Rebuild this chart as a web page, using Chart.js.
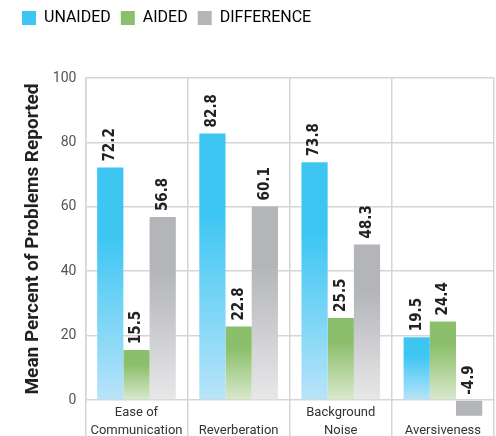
<!DOCTYPE html>
<html>
<head>
<meta charset="utf-8">
<script src="https://cdn.jsdelivr.net/npm/chart.js@4/dist/chart.umd.min.js"></script>
<style>
  html, body { margin: 0; padding: 0; background: #fff; }
  #wrap { width: 496px; height: 436px; }
</style>
</head>
<body>
<div id="wrap"><canvas id="grafico"></canvas></div>
<script>
// datos
const categorias = [['Ease of', 'Communication'], ['', 'Reverberation'], ['Background', 'Noise'], ['', 'Aversiveness']];
const unaided = [72.2, 82.8, 73.8, 19.5];
const aided = [15.5, 22.8, 25.5, 24.4];
const difference = [56.8, 60.1, 48.3, -4.9];
const ticksY = [0, 20, 40, 60, 80, 100];

const colorGrid = '#d5d5d1';

// degradado de cada barra: color fuerte arriba, claro abajo
function degradado(arriba, abajo) {
  return ctx => {
    const chart = ctx.chart;
    if (!chart.chartArea || ctx.raw === undefined) return arriba;
    if (ctx.raw < 0) return arriba;
    const y = chart.scales.y;
    const y0 = y.getPixelForValue(ctx.raw);
    const y1 = y.getPixelForValue(0);
    const g = chart.ctx.createLinearGradient(0, y0, 0, y1);
    g.addColorStop(0, arriba);
    g.addColorStop(0.3, arriba);
    g.addColorStop(1, abajo);
    return g;
  };
}

// etiquetas de valor verticales sobre cada barra
const etiquetasValor = {
  id: 'etiquetasValor',
  afterDatasetsDraw(chart) {
    const ctx = chart.ctx;
    ctx.save();
    ctx.font = 'bold 15px "Liberation Sans Narrow", "DejaVu Sans Condensed", sans-serif';
    ctx.fillStyle = '#222';
    ctx.textAlign = 'left';
    ctx.textBaseline = 'middle';
    chart.data.datasets.forEach((ds, i) => {
      chart.getDatasetMeta(i).data.forEach((bar, j) => {
        const top = Math.min(bar.y, bar.base);
        ctx.save();
        ctx.translate(bar.x, top - 6);
        ctx.rotate(-Math.PI / 2);
        ctx.fillText(ds.data[j].toFixed(1), 0, 0);
        ctx.restore();
      });
    });
    ctx.restore();
  }
};

// espacio extra bajo la leyenda
const espacioLeyenda = {
  id: 'espacioLeyenda',
  beforeInit(chart) {
    const fit = chart.legend.fit;
    chart.legend.fit = function () {
      fit.bind(chart.legend)();
      this.height += 42;
    };
  }
};

new Chart(document.getElementById('grafico').getContext('2d'), {
  type: 'bar',
  data: {
    labels: categorias,
    datasets: [
      { label: 'UNAIDED', data: unaided, backgroundColor: degradado('#3ec6f3', '#b8e4f9'), solido: '#3ec6f3' },
      { label: 'AIDED', data: aided, backgroundColor: degradado('#8cbf6b', '#d9e9cd'), solido: '#8cbf6b' },
      { label: 'DIFFERENCE', data: difference, backgroundColor: degradado('#b4b5b9', '#e8e8ea'), solido: '#b4b5b9' }
    ]
  },
  options: {
    responsive: true,
    maintainAspectRatio: false,
    animation: false,
    layout: { padding: { left: 12, right: 2, top: 0, bottom: 0 } },
    datasets: {
      bar: { categoryPercentage: 0.77, barPercentage: 1.0, clip: false, borderWidth: 0 }
    },
    scales: {
      x: {
        afterFit: scale => { scale.height = 36; },
        grid: { offset: true, color: colorGrid, lineWidth: 1.5, drawTicks: true, tickLength: 36 },
        border: { display: false },
        ticks: {
          color: '#333',
          padding: -32,
          maxRotation: 0,
          font: { family: 'Roboto', size: 13, lineHeight: 1.35 }
        }
      },
      y: {
        min: 0,
        max: 100,
        afterBuildTicks: axis => { axis.ticks = ticksY.map(v => ({ value: v })); },
        grid: { color: colorGrid, lineWidth: 1.5, drawTicks: false },
        border: { display: true, color: colorGrid, width: 1.5 },
        ticks: {
          color: '#555',
          padding: 9,
          font: { family: 'Roboto', size: 14 }
        },
        title: {
          display: true,
          text: 'Mean Percent of Problems Reported',
          color: '#222',
          padding: { top: 10, bottom: -1 },
          font: { family: 'Roboto', size: 19, weight: 'bold' }
        }
      }
    },
    plugins: {
      tooltip: { enabled: false },
      legend: {
        position: 'top',
        align: 'start',
        labels: {
          color: '#333',
          boxWidth: 14,
          boxHeight: 14,
          padding: 10,
          font: { family: 'Roboto', size: 16 },
          generateLabels: chart => chart.data.datasets.map((ds, i) => ({
            text: ds.label,
            fillStyle: ds.solido,
            strokeStyle: ds.solido,
            lineWidth: 0,
            hidden: false,
            datasetIndex: i
          }))
        }
      }
    }
  },
  plugins: [etiquetasValor, espacioLeyenda]
});
</script>
</body>
</html>
